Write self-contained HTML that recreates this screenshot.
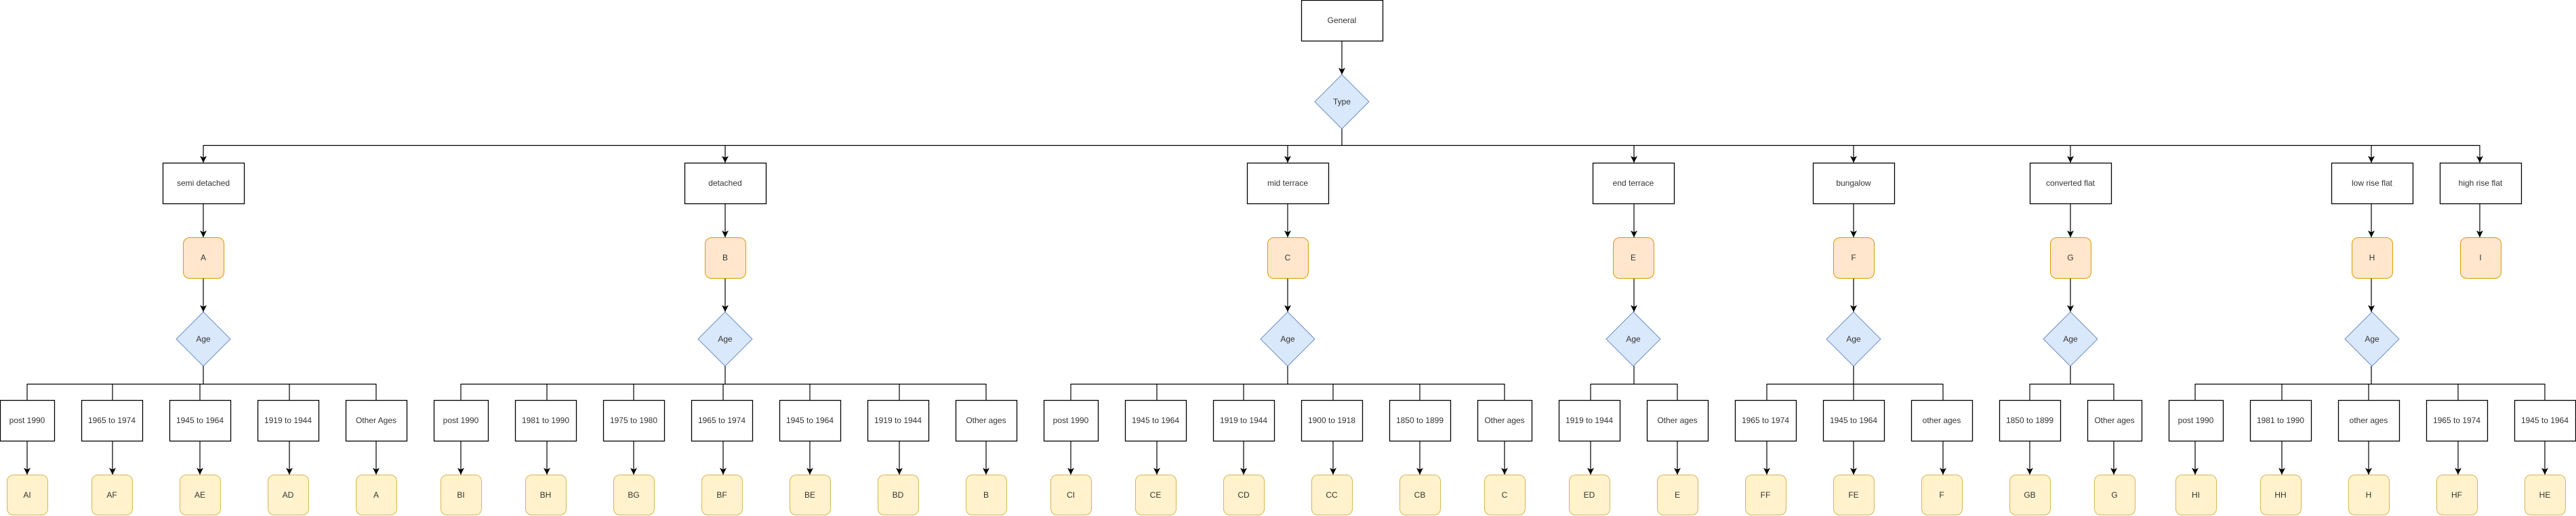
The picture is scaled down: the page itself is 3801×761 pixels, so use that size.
<!DOCTYPE html>
<html><head><meta charset="utf-8"><style>
html,body{margin:0;padding:0;background:#fff;}
svg{display:block}
text{font-family:"Liberation Sans",Arial,sans-serif;font-size:12px;fill:#333;text-anchor:middle;dominant-baseline:central}
.b{fill:#fff;stroke:#000;stroke-width:1.3}
.o{fill:#ffe6cc;stroke:#d79b00;stroke-width:1}
.y{fill:#fff2cc;stroke:#d6b656;stroke-width:1}
.d{fill:#dae8fc;stroke:#6c8ebf;stroke-width:1}
.l{stroke:#000;stroke-width:1.2;fill:none}
.a{stroke:#000;stroke-width:1.2;fill:none;marker-end:url(#m)}
</style></head><body>
<svg width="3801" height="761" viewBox="0 0 3801 761" xmlns="http://www.w3.org/2000/svg">
<defs><marker id="m" markerUnits="userSpaceOnUse" markerWidth="10" markerHeight="12" refX="10" refY="5" orient="auto" viewBox="0 0 10 10"><path d="M0,0 L10,5 L0,10 L2.5,5 z" fill="#000"/></marker></defs>

<!-- top -->
<rect class="b" x="1920.5" y="0.5" width="120" height="60"/><text x="1980" y="30">General</text>
<path class="a" d="M1980,61 V110"/>
<polygon class="d" points="1980,110 2020,150 1980,190 1940,150"/><text x="1980" y="150">Type</text>
<path class="l" d="M1980,190 V214.5 M300,214.5 H3659"/>

<!-- categories -->
<g>
<path class="a" d="M300,214 V240"/><rect class="b" x="240.5" y="240.5" width="120" height="60"/><text x="300" y="270">semi detached</text>
<path class="a" d="M300,301 V350"/><rect class="o" x="270.5" y="350.5" width="60" height="60" rx="9"/><text x="300" y="380">A</text>
<path class="a" d="M300,411 V460"/><polygon class="d" points="300,460 340,500 300,540 260,500"/><text x="300" y="500">Age</text>
<path class="l" d="M300,540 V566.5 M40,566.5 H555"/>

<path class="a" d="M1070,214 V240"/><rect class="b" x="1010.5" y="240.5" width="120" height="60"/><text x="1070" y="270">detached</text>
<path class="a" d="M1070,301 V350"/><rect class="o" x="1040.5" y="350.5" width="60" height="60" rx="9"/><text x="1070" y="380">B</text>
<path class="a" d="M1070,411 V460"/><polygon class="d" points="1070,460 1110,500 1070,540 1030,500"/><text x="1070" y="500">Age</text>
<path class="l" d="M1070,540 V566.5 M680,566.5 H1455"/>

<path class="a" d="M1900,214 V240"/><rect class="b" x="1840.5" y="240.5" width="120" height="60"/><text x="1900" y="270">mid terrace</text>
<path class="a" d="M1900,301 V350"/><rect class="o" x="1870.5" y="350.5" width="60" height="60" rx="9"/><text x="1900" y="380">C</text>
<path class="a" d="M1900,411 V460"/><polygon class="d" points="1900,460 1940,500 1900,540 1860,500"/><text x="1900" y="500">Age</text>
<path class="l" d="M1900,540 V566.5 M1580,566.5 H2220"/>

<path class="a" d="M2411,214 V240"/><rect class="b" x="2350.5" y="240.5" width="120" height="60"/><text x="2410" y="270">end terrace</text>
<path class="a" d="M2411,301 V350"/><rect class="o" x="2380.5" y="350.5" width="60" height="60" rx="9"/><text x="2410" y="380">E</text>
<path class="a" d="M2411,411 V460"/><polygon class="d" points="2410,460 2450,500 2410,540 2370,500"/><text x="2410" y="500">Age</text>
<path class="l" d="M2411,540 V566.5 M2347,566.5 H2475"/>

<path class="a" d="M2735,214 V240"/><rect class="b" x="2675.5" y="240.5" width="120" height="60"/><text x="2735" y="270">bungalow</text>
<path class="a" d="M2735,301 V350"/><rect class="o" x="2705.5" y="350.5" width="60" height="60" rx="9"/><text x="2735" y="380">F</text>
<path class="a" d="M2735,411 V460"/><polygon class="d" points="2735,460 2775,500 2735,540 2695,500"/><text x="2735" y="500">Age</text>
<path class="l" d="M2735,540 V566.5 M2607,566.5 H2867"/>

<path class="a" d="M3055,214 V240"/><rect class="b" x="2995.5" y="240.5" width="120" height="60"/><text x="3055" y="270">converted flat</text>
<path class="a" d="M3055,301 V350"/><rect class="o" x="3025.5" y="350.5" width="60" height="60" rx="9"/><text x="3055" y="380">G</text>
<path class="a" d="M3055,411 V460"/><polygon class="d" points="3055,460 3095,500 3055,540 3015,500"/><text x="3055" y="500">Age</text>
<path class="l" d="M3055,540 V566.5 M2995,566.5 H3119"/>

<path class="a" d="M3499,214 V240"/><rect class="b" x="3440.5" y="240.5" width="120" height="60"/><text x="3500" y="270">low rise flat</text>
<path class="a" d="M3499,301 V350"/><rect class="o" x="3470.5" y="350.5" width="60" height="60" rx="9"/><text x="3500" y="380">H</text>
<path class="a" d="M3499,411 V460"/><polygon class="d" points="3500,460 3540,500 3500,540 3460,500"/><text x="3500" y="500">Age</text>
<path class="l" d="M3499,540 V566.5 M3239,566.5 H3755"/>

<path class="a" d="M3659,214 V240"/><rect class="b" x="3600.5" y="240.5" width="120" height="60"/><text x="3660" y="270">high rise flat</text>
<path class="a" d="M3659,301 V350"/><rect class="o" x="3630.5" y="350.5" width="60" height="60" rx="9"/><text x="3660" y="380">I</text>
</g>

<!-- leaves: box, arrow, result -->
<g>
<path class="a" d="M40,566 V590 M40,651 V700"/><rect class="b" x="0.5" y="590.5" width="80" height="60"/><text x="40" y="620">post 1990</text><rect class="y" x="10.5" y="700.5" width="60" height="59" rx="9"/><text x="40" y="730">AI</text>
<path class="a" d="M166,566 V590 M166,651 V700"/><rect class="b" x="120.5" y="590.5" width="90" height="60"/><text x="165" y="620">1965 to 1974</text><rect class="y" x="135.5" y="700.5" width="60" height="59" rx="9"/><text x="165" y="730">AF</text>
<path class="a" d="M295,566 V590 M295,651 V700"/><rect class="b" x="250.5" y="590.5" width="90" height="60"/><text x="295" y="620">1945 to 1964</text><rect class="y" x="265.5" y="700.5" width="60" height="59" rx="9"/><text x="295" y="730">AE</text>
<path class="a" d="M427,566 V590 M427,651 V700"/><rect class="b" x="380.5" y="590.5" width="90" height="60"/><text x="425" y="620">1919 to 1944</text><rect class="y" x="395.5" y="700.5" width="60" height="59" rx="9"/><text x="425" y="730">AD</text>
<path class="a" d="M555,566 V590 M555,651 V700"/><rect class="b" x="510.5" y="590.5" width="90" height="60"/><text x="555" y="620">Other Ages</text><rect class="y" x="525.5" y="700.5" width="60" height="59" rx="9"/><text x="555" y="730">A</text>

<path class="a" d="M680,566 V590 M680,651 V700"/><rect class="b" x="640.5" y="590.5" width="80" height="60"/><text x="680" y="620">post 1990</text><rect class="y" x="650.5" y="700.5" width="60" height="59" rx="9"/><text x="680" y="730">BI</text>
<path class="a" d="M807,566 V590 M807,651 V700"/><rect class="b" x="760.5" y="590.5" width="90" height="60"/><text x="805" y="620">1981 to 1990</text><rect class="y" x="775.5" y="700.5" width="60" height="59" rx="9"/><text x="805" y="730">BH</text>
<path class="a" d="M935,566 V590 M935,651 V700"/><rect class="b" x="890.5" y="590.5" width="90" height="60"/><text x="935" y="620">1975 to 1980</text><rect class="y" x="905.5" y="700.5" width="60" height="59" rx="9"/><text x="935" y="730">BG</text>
<path class="a" d="M1067,566 V590 M1067,651 V700"/><rect class="b" x="1020.5" y="590.5" width="90" height="60"/><text x="1065" y="620">1965 to 1974</text><rect class="y" x="1035.5" y="700.5" width="60" height="59" rx="9"/><text x="1065" y="730">BF</text>
<path class="a" d="M1195,566 V590 M1195,651 V700"/><rect class="b" x="1150.5" y="590.5" width="90" height="60"/><text x="1195" y="620">1945 to 1964</text><rect class="y" x="1165.5" y="700.5" width="60" height="59" rx="9"/><text x="1195" y="730">BE</text>
<path class="a" d="M1327,566 V590 M1327,651 V700"/><rect class="b" x="1280.5" y="590.5" width="90" height="60"/><text x="1325" y="620">1919 to 1944</text><rect class="y" x="1295.5" y="700.5" width="60" height="59" rx="9"/><text x="1325" y="730">BD</text>
<path class="a" d="M1455,566 V590 M1455,651 V700"/><rect class="b" x="1410.5" y="590.5" width="90" height="60"/><text x="1455" y="620">Other ages</text><rect class="y" x="1425.5" y="700.5" width="60" height="59" rx="9"/><text x="1455" y="730">B</text>

<path class="a" d="M1580,566 V590 M1580,651 V700"/><rect class="b" x="1540.5" y="590.5" width="80" height="60"/><text x="1580" y="620">post 1990</text><rect class="y" x="1550.5" y="700.5" width="60" height="59" rx="9"/><text x="1580" y="730">CI</text>
<path class="a" d="M1707,566 V590 M1707,651 V700"/><rect class="b" x="1660.5" y="590.5" width="90" height="60"/><text x="1705" y="620">1945 to 1964</text><rect class="y" x="1675.5" y="700.5" width="60" height="59" rx="9"/><text x="1705" y="730">CE</text>
<path class="a" d="M1835,566 V590 M1835,651 V700"/><rect class="b" x="1790.5" y="590.5" width="90" height="60"/><text x="1835" y="620">1919 to 1944</text><rect class="y" x="1805.5" y="700.5" width="60" height="59" rx="9"/><text x="1835" y="730">CD</text>
<path class="a" d="M1967,566 V590 M1967,651 V700"/><rect class="b" x="1920.5" y="590.5" width="90" height="60"/><text x="1965" y="620">1900 to 1918</text><rect class="y" x="1935.5" y="700.5" width="60" height="59" rx="9"/><text x="1965" y="730">CC</text>
<path class="a" d="M2095,566 V590 M2095,651 V700"/><rect class="b" x="2050.5" y="590.5" width="90" height="60"/><text x="2095" y="620">1850 to 1899</text><rect class="y" x="2065.5" y="700.5" width="60" height="59" rx="9"/><text x="2095" y="730">CB</text>
<path class="a" d="M2220,566 V590 M2220,651 V700"/><rect class="b" x="2180.5" y="590.5" width="80" height="60"/><text x="2220" y="620">Other ages</text><rect class="y" x="2190.5" y="700.5" width="60" height="59" rx="9"/><text x="2220" y="730">C</text>

<path class="a" d="M2347,566 V590 M2347,651 V700"/><rect class="b" x="2300.5" y="590.5" width="90" height="60"/><text x="2345" y="620">1919 to 1944</text><rect class="y" x="2315.5" y="700.5" width="60" height="59" rx="9"/><text x="2345" y="730">ED</text>
<path class="a" d="M2475,566 V590 M2475,651 V700"/><rect class="b" x="2430.5" y="590.5" width="90" height="60"/><text x="2475" y="620">Other ages</text><rect class="y" x="2445.5" y="700.5" width="60" height="59" rx="9"/><text x="2475" y="730">E</text>

<path class="a" d="M2607,566 V590 M2607,651 V700"/><rect class="b" x="2560.5" y="590.5" width="90" height="60"/><text x="2605" y="620">1965 to 1974</text><rect class="y" x="2575.5" y="700.5" width="60" height="59" rx="9"/><text x="2605" y="730">FF</text>
<path class="a" d="M2735,566 V590 M2735,651 V700"/><rect class="b" x="2690.5" y="590.5" width="90" height="60"/><text x="2735" y="620">1945 to 1964</text><rect class="y" x="2705.5" y="700.5" width="60" height="59" rx="9"/><text x="2735" y="730">FE</text>
<path class="a" d="M2867,566 V590 M2867,651 V700"/><rect class="b" x="2820.5" y="590.5" width="90" height="60"/><text x="2865" y="620">other ages</text><rect class="y" x="2835.5" y="700.5" width="60" height="59" rx="9"/><text x="2865" y="730">F</text>

<path class="a" d="M2995,566 V590 M2995,651 V700"/><rect class="b" x="2950.5" y="590.5" width="90" height="60"/><text x="2995" y="620">1850 to 1899</text><rect class="y" x="2965.5" y="700.5" width="60" height="59" rx="9"/><text x="2995" y="730">GB</text>
<path class="a" d="M3119,566 V590 M3119,651 V700"/><rect class="b" x="3080.5" y="590.5" width="80" height="60"/><text x="3120" y="620">Other ages</text><rect class="y" x="3090.5" y="700.5" width="60" height="59" rx="9"/><text x="3120" y="730">G</text>

<path class="a" d="M3239,566 V590 M3239,651 V700"/><rect class="b" x="3200.5" y="590.5" width="80" height="60"/><text x="3240" y="620">post 1990</text><rect class="y" x="3210.5" y="700.5" width="60" height="59" rx="9"/><text x="3240" y="730">HI</text>
<path class="a" d="M3367,566 V590 M3367,651 V700"/><rect class="b" x="3320.5" y="590.5" width="90" height="60"/><text x="3365" y="620">1981 to 1990</text><rect class="y" x="3335.5" y="700.5" width="60" height="59" rx="9"/><text x="3365" y="730">HH</text>
<path class="a" d="M3495,566 V590 M3495,651 V700"/><rect class="b" x="3450.5" y="590.5" width="90" height="60"/><text x="3495" y="620">other ages</text><rect class="y" x="3465.5" y="700.5" width="60" height="59" rx="9"/><text x="3495" y="730">H</text>
<path class="a" d="M3627,566 V590 M3627,651 V700"/><rect class="b" x="3580.5" y="590.5" width="90" height="60"/><text x="3625" y="620">1965 to 1974</text><rect class="y" x="3595.5" y="700.5" width="60" height="59" rx="9"/><text x="3625" y="730">HF</text>
<path class="a" d="M3755,566 V590 M3755,651 V700"/><rect class="b" x="3710.5" y="590.5" width="90" height="60"/><text x="3755" y="620">1945 to 1964</text><rect class="y" x="3725.5" y="700.5" width="60" height="59" rx="9"/><text x="3755" y="730">HE</text>
</g>
</svg>
</body></html>
